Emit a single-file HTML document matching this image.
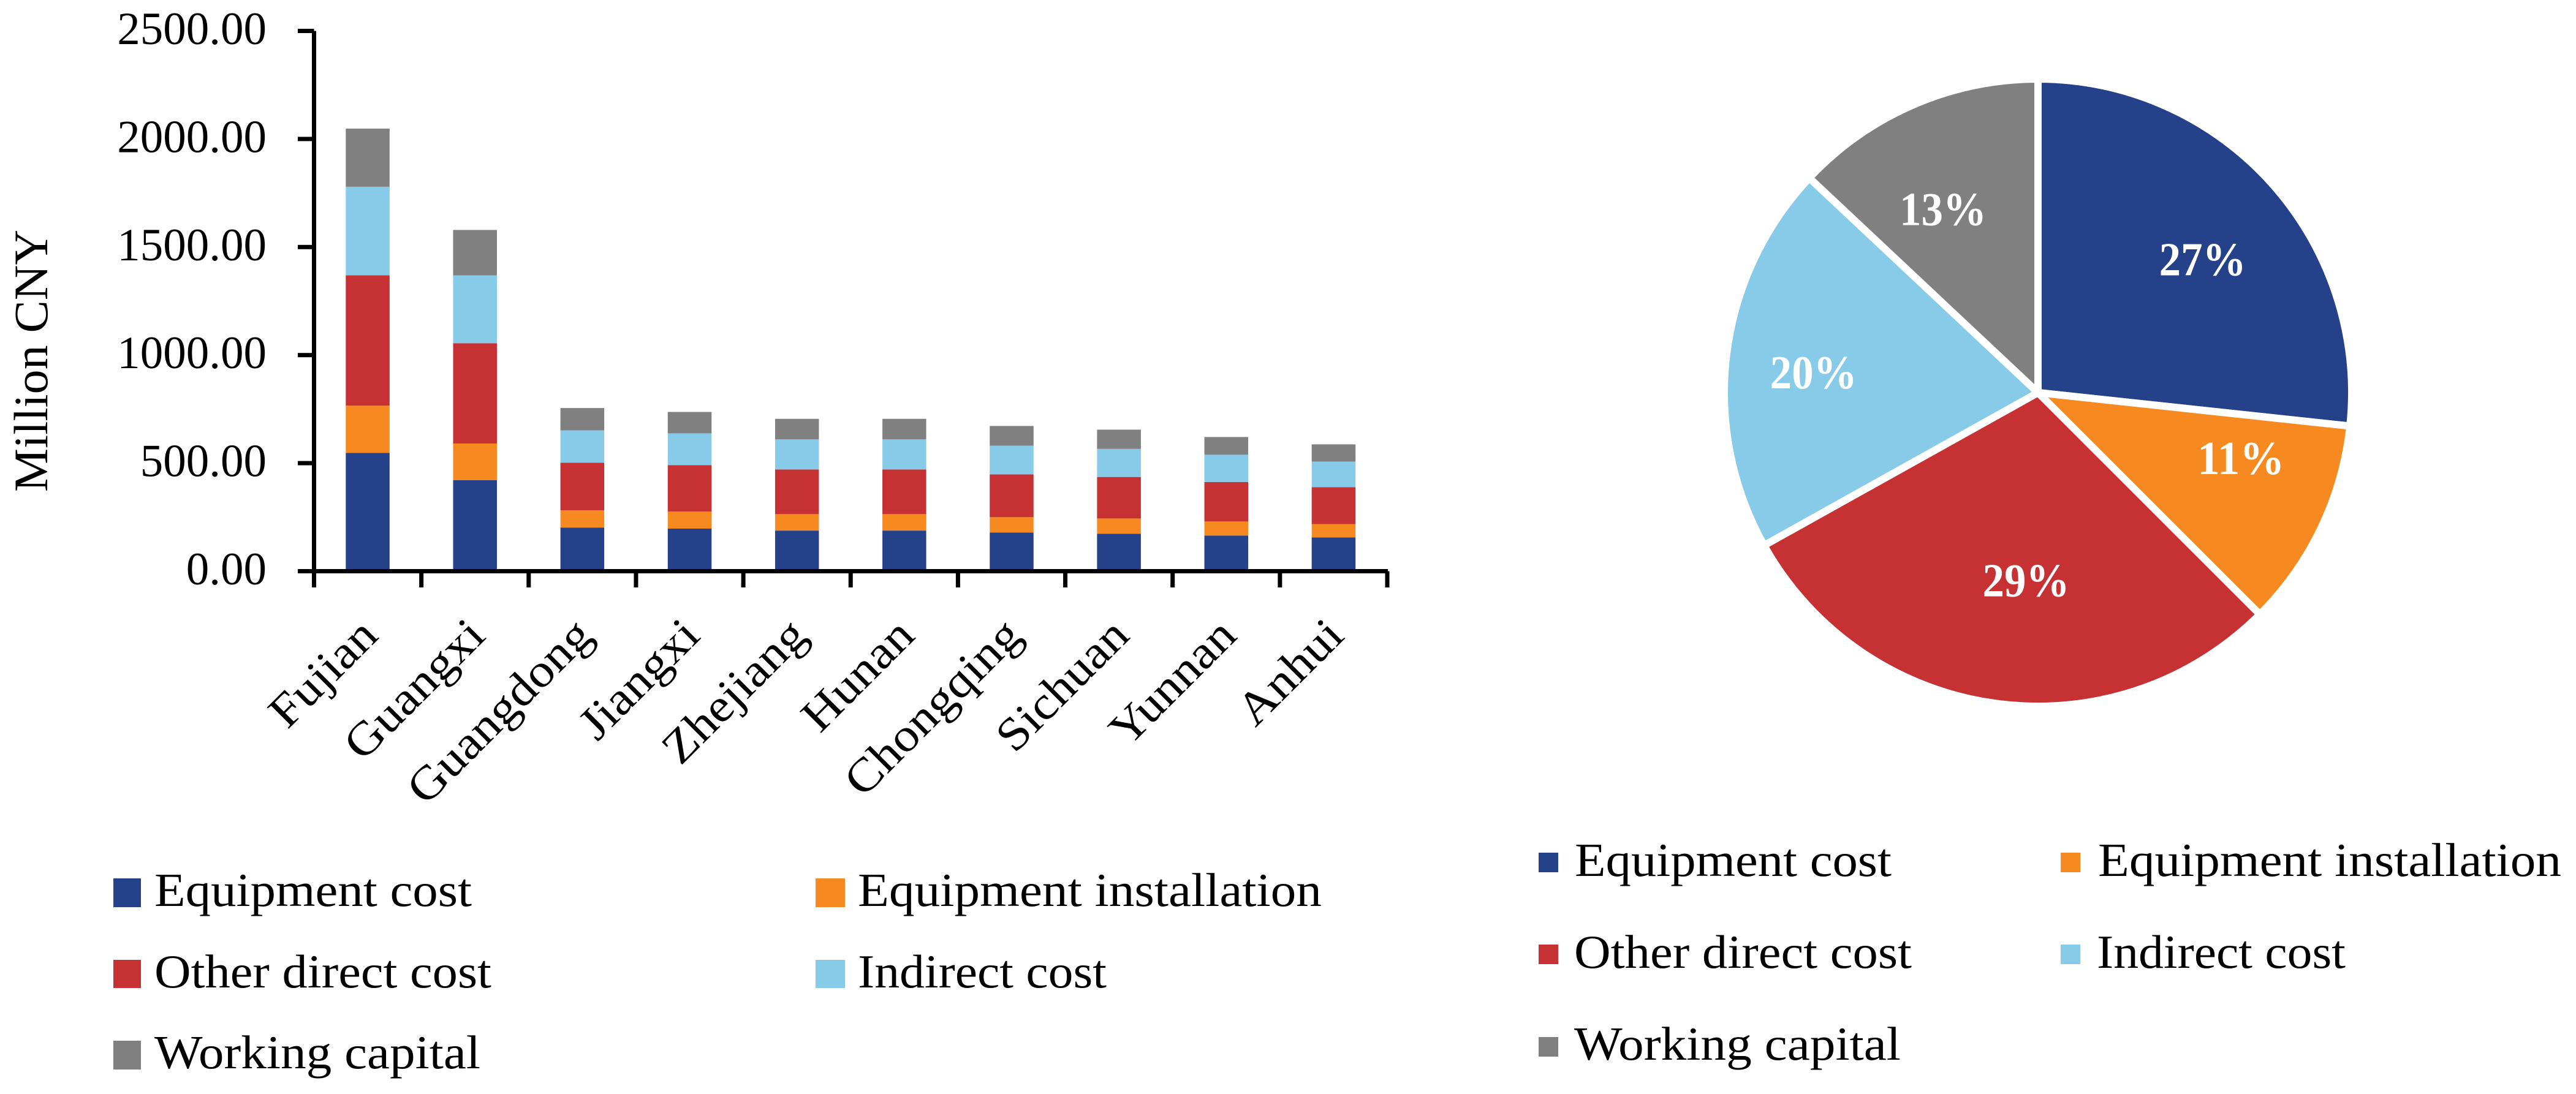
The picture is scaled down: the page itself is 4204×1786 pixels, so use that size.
<!DOCTYPE html>
<html lang="en">
<head>
<meta charset="utf-8">
<title>Cost breakdown by province</title>
<style>
html,body{margin:0;padding:0;background:#fff;width:4204px;height:1786px;overflow:hidden}
svg{display:block}
text{font-family:"Liberation Serif","DejaVu Serif",serif;fill:#000}
.leg{font-size:77px}
</style>
</head>
<body>
<svg id="figure" xmlns="http://www.w3.org/2000/svg" width="4204" height="1786" viewBox="0 0 4204 1786">
  <rect x="0" y="0" width="4204" height="1786" fill="#fff"/>
  <g id="bar-chart"></g>
  <g id="pie-chart"></g>

  <g>
    <g>
      <rect x="185" y="1434" width="45" height="47" fill="#24418A"/>
      <text class="leg" x="252" y="1479" textLength="518" lengthAdjust="spacingAndGlyphs">Equipment cost</text>
    </g>
    <g>
      <rect x="1331" y="1434" width="48" height="47" fill="#F6891F"/>
      <text class="leg" x="1400" y="1479" textLength="757" lengthAdjust="spacingAndGlyphs">Equipment installation</text>
    </g>
    <g>
      <rect x="185" y="1567" width="45" height="46" fill="#C63133"/>
      <text class="leg" x="252" y="1612" textLength="550" lengthAdjust="spacingAndGlyphs">Other direct cost</text>
    </g>
    <g>
      <rect x="1331" y="1567" width="48" height="46" fill="#87CBE9"/>
      <text class="leg" x="1400" y="1612" textLength="406" lengthAdjust="spacingAndGlyphs">Indirect cost</text>
    </g>
    <g>
      <rect x="185" y="1699" width="45" height="47" fill="#808080"/>
      <text class="leg" x="252" y="1744" textLength="532" lengthAdjust="spacingAndGlyphs">Working capital</text>
    </g>
  </g>

  <g>
    <g>
      <rect x="2511" y="1392" width="32" height="32" fill="#24418A"/>
      <text class="leg" x="2570" y="1430" textLength="517" lengthAdjust="spacingAndGlyphs">Equipment cost</text>
    </g>
    <g>
      <rect x="3363" y="1392" width="32" height="32" fill="#F6891F"/>
      <text class="leg" x="3424" y="1430" textLength="756" lengthAdjust="spacingAndGlyphs">Equipment installation</text>
    </g>
    <g>
      <rect x="2511" y="1542" width="32" height="32" fill="#C63133"/>
      <text class="leg" x="2569" y="1580" textLength="551" lengthAdjust="spacingAndGlyphs">Other direct cost</text>
    </g>
    <g>
      <rect x="3363" y="1542" width="32" height="32" fill="#87CBE9"/>
      <text class="leg" x="3422" y="1580" textLength="406" lengthAdjust="spacingAndGlyphs">Indirect cost</text>
    </g>
    <g>
      <rect x="2511" y="1693" width="32" height="32" fill="#808080"/>
      <text class="leg" x="2569" y="1730" textLength="533" lengthAdjust="spacingAndGlyphs">Working capital</text>
    </g>
  </g>
</svg>

<script>
// Bar chart data
const categories = ["Fujian","Guangxi","Guangdong","Jiangxi","Zhejiang","Hunan","Chongqing","Sichuan","Yunnan","Anhui"];
const equipmentCost = [547,421,202,197,188,188,179,173,165,156];
const equipmentInstallation = [219,170,80,79,76,76,71,71,65,62];
const otherDirectCost = [603,464,220,215,207,207,198,192,183,171];
const indirectCost = [410,314,150,147,139,139,133,130,126,118];
const workingCapital = [269,210,103,99,95,95,91,89,82,80];
const yTickValues = [0,500,1000,1500,2000,2500];
const yTickLabels = ["0.00","500.00","1000.00","1500.00","2000.00","2500.00"];

// Pie chart data
const pieCategories = ["Equipment cost","Equipment installation","Other direct cost","Indirect cost","Working capital"];
const pieShares = [26.7,10.8,29.4,20.1,13.0];

const NS = "http://www.w3.org/2000/svg";
function make(tag, parent, props) {
  const el = document.createElementNS(NS, tag);
  for (const k in props) el.setAttribute(k, props[k]);
  parent.appendChild(el);
  return el;
}
function slug(s) { return s.toLowerCase().replace(/\s+/g, "-"); }

const barRoot = document.getElementById("bar-chart");
const pieRoot = document.getElementById("pie-chart");

// Bar axis functions
const plotLeft = 512.5, plotRight = 2264, plotTop = 50.5, plotBottom = 932.5;
const axisWeight = 7;
const yMax = 2500;
function yScale(v) { return plotBottom - (v / yMax) * (plotBottom - plotTop); }
const bandWidth = (plotRight - plotLeft) / categories.length;
function xBand(i) { return plotLeft + i * bandWidth; }
function xCenter(i) { return xBand(i) + bandWidth / 2; }
const barWidth = 71.5;

const seriesList = [
  { name: "equipment-cost", values: equipmentCost, color: "#24418A" },
  { name: "equipment-installation", values: equipmentInstallation, color: "#F6891F" },
  { name: "other-direct-cost", values: otherDirectCost, color: "#C63133" },
  { name: "indirect-cost", values: indirectCost, color: "#87CBE9" },
  { name: "working-capital", values: workingCapital, color: "#808080" }
];

// Stacked bars
categories.forEach(function (cat, i) {
  let running = 0;
  seriesList.forEach(function (s) {
    const v = s.values[i];
    const top = yScale(running + v);
    const bottom = yScale(running);
    const r = make("rect", barRoot, { x: xCenter(i) - barWidth / 2, y: top, width: barWidth, height: bottom - top, fill: s.color });
    
    
    running += v;
  });
});

// Y axis
const yAxisLine = make("rect", barRoot, { x: plotLeft - axisWeight / 2, y: plotTop, width: axisWeight, height: 959 - plotTop, fill: "#000" });



yTickValues.forEach(function (v, i) {
  const y = yScale(v);
  const tick = make("rect", barRoot, { x: 486, y: y - axisWeight / 2, width: plotLeft - 486, height: axisWeight, fill: "#000" });
  
  
  const label = make("text", barRoot, { x: 435, y: y + 21.5, "text-anchor": "end", "font-size": 75 });
  label.textContent = yTickLabels[i];
  
  
});

const yTitle = make("text", barRoot, { transform: "translate(77,803) rotate(-90)", "font-size": 78, textLength: 428, lengthAdjust: "spacingAndGlyphs" });
yTitle.textContent = "Million CNY";



// X axis
const xAxisLine = make("rect", barRoot, { x: plotLeft, y: plotBottom - axisWeight / 2, width: plotRight - plotLeft + 1, height: axisWeight, fill: "#000" });



for (let i = 1; i <= categories.length; i++) {
  const tick = make("rect", barRoot, { x: xBand(i) - axisWeight / 2, y: plotBottom, width: axisWeight, height: 959 - plotBottom, fill: "#000" });
  
  
}

categories.forEach(function (cat, i) {
  const label = make("text", barRoot, {
    transform: "translate(" + (xCenter(i) + 20) + ",1041) rotate(-45) scale(1.1,1)",
    "text-anchor": "end",
    "font-size": 76
  });
  label.textContent = cat;
  
  
});

// Pie
const pieCx = 3326, pieCy = 641, pieR = 512;
const pieColors = ["#24418A","#F6891F","#C63133","#87CBE9","#808080"];
// layout-only label adjustments in pixels, keyed by slice name
const pieLabelNudge = {
  "Equipment cost": [12, 13],
  "Equipment installation": [20, -42],
  "Other direct cost": [28, -35],
  "Indirect cost": [-24, 9],
  "Working capital": [-18, 17]
};
const pieTotal = pieShares.reduce(function (a, b) { return a + b; }, 0);
function angleOf(share) { return share / pieTotal * 2 * Math.PI; }
function polar(a, r) { return [pieCx + r * Math.sin(a), pieCy - r * Math.cos(a)]; }

let cursor = 0;
const pieLabelJobs = [];
pieShares.forEach(function (share, i) {
  const a0 = cursor, a1 = cursor + angleOf(share);
  const p0 = polar(a0, pieR), p1 = polar(a1, pieR);
  const large = a1 - a0 > Math.PI ? 1 : 0;
  const d = "M" + pieCx + " " + pieCy + " L" + p0[0] + " " + p0[1] + " A" + pieR + " " + pieR + " 0 " + large + " 1 " + p1[0] + " " + p1[1] + " Z";
  const slice = make("path", pieRoot, { d: d, fill: pieColors[i], stroke: "#fff", "stroke-width": 12, "stroke-linejoin": "miter" });
  
  
  pieLabelJobs.push({ mid: (a0 + a1) / 2, share: share, name: pieCategories[i] });
  cursor = a1;
});

pieLabelJobs.forEach(function (job) {
  const pos = polar(job.mid, 345);
  const nudge = pieLabelNudge[job.name];
  const t = make("text", pieRoot, {
    x: pos[0] + nudge[0],
    y: pos[1] + nudge[1] + 26,
    "text-anchor": "middle",
    "font-size": 77,
    "font-weight": "bold",
    textLength: 142,
    lengthAdjust: "spacingAndGlyphs",
    style: "fill:#fff"
  });
  t.textContent = Math.round(job.share / pieTotal * 100) + "%";
  
  
});
</script>
</body>
</html>
